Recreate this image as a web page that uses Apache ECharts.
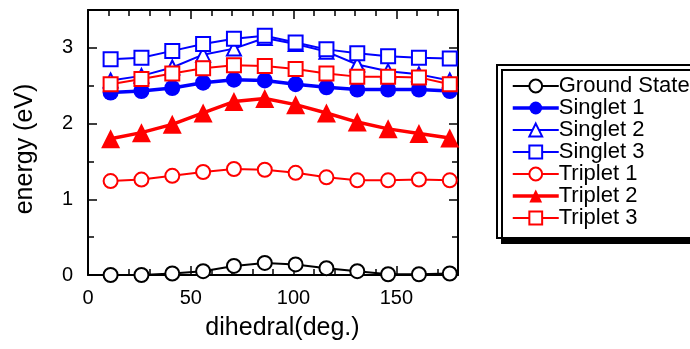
<!DOCTYPE html>
<html><head><meta charset="utf-8">
<script src="https://cdn.jsdelivr.net/npm/echarts@6/dist/echarts.min.js"></script>
<style>html,body{margin:0;padding:0;background:#fff}#c{width:690px;height:349px}</style>
</head><body><div id="c"></div>
<script>
const dihedral = [11, 26, 41, 56, 71, 86, 101, 116, 131, 146, 161, 176];
const groundState = [0.00, 0.00, 0.02, 0.05, 0.12, 0.16, 0.14, 0.09, 0.05, 0.01, 0.01, 0.02];
const singlet1 = [2.41, 2.43, 2.47, 2.54, 2.58, 2.57, 2.52, 2.48, 2.45, 2.45, 2.45, 2.43];
const singlet2 = [2.57, 2.63, 2.74, 2.91, 2.99, 3.13, 3.05, 2.95, 2.78, 2.69, 2.65, 2.57];
const singlet3 = [2.85, 2.87, 2.96, 3.05, 3.12, 3.16, 3.07, 2.98, 2.93, 2.89, 2.87, 2.86];
const triplet1 = [1.24, 1.26, 1.31, 1.36, 1.40, 1.39, 1.35, 1.29, 1.25, 1.25, 1.26, 1.25];
const triplet2 = [1.80, 1.88, 1.99, 2.14, 2.29, 2.33, 2.25, 2.14, 2.02, 1.93, 1.87, 1.81];
const triplet3 = [2.52, 2.59, 2.66, 2.73, 2.77, 2.76, 2.72, 2.66, 2.62, 2.62, 2.61, 2.52];
const seriesNames = ['Ground State', 'Singlet 1', 'Singlet 2', 'Singlet 3', 'Triplet 1', 'Triplet 2', 'Triplet 3'];
const thickSeries = ['Singlet 1', 'Triplet 2'];

const FONT = '"Liberation Sans", Arial, sans-serif';
const pair = arr => dihedral.map((x, i) => [x, arr[i]]);
function mk(name, data, color, symbol, size, filled, lw) {
  return {
    name, type: 'line', data: pair(data), symbol, symbolSize: size,
    lineStyle: { color, width: lw },
    itemStyle: { color: filled ? color : '#fff', borderColor: color, borderWidth: filled ? 0 : 2 },
    emphasis: { disabled: true }, animation: false, z: 3
  };
}
const chart = echarts.init(document.getElementById('c'));
function axisStyle(split) {
  return {
    axisLine: { show: true, onZero: false, lineStyle: { color: '#000', width: 2 } },
    axisTick: { show: true, inside: true, length: 9, lineStyle: { color: '#000', width: 1.5 } },
    minorTick: { show: true, splitNumber: split, length: 6, lineStyle: { color: '#000', width: 1.5 } },
    splitLine: { show: false }
  };
}
chart.setOption({
  animation: false,
  grid: { left: 88, right: 232, top: 10, bottom: 74 },
  xAxis: [
    Object.assign({ type: 'value', min: 0, max: 180, interval: 50, position: 'bottom',
      name: 'dihedral(deg.)', nameLocation: 'middle', nameGap: 41,
      nameTextStyle: { fontFamily: FONT, fontSize: 25, color: '#000', padding: [0, 0, 0, 19] },
      axisLabel: { fontFamily: FONT, fontSize: 20, color: '#000', margin: 13, showMaxLabel: false }
    }, axisStyle(5)),
    Object.assign({ type: 'value', min: 0, max: 180, interval: 50, position: 'top',
      axisLabel: { show: false } }, axisStyle(5))
  ],
  yAxis: [
    Object.assign({ type: 'value', min: 0, max: 3.5, interval: 1, position: 'left',
      name: 'energy (eV)', nameLocation: 'middle', nameGap: 50, nameRotate: 90,
      nameTextStyle: { fontFamily: FONT, fontSize: 25, color: '#000', padding: [0, 13, 0, 0] },
      axisLabel: { fontFamily: FONT, fontSize: 20, color: '#000', margin: 15, showMaxLabel: false }
    }, axisStyle(2)),
    Object.assign({ type: 'value', min: 0, max: 3.5, interval: 1, position: 'right',
      axisLabel: { show: false } }, axisStyle(2))
  ],
  legend: {
    orient: 'vertical', left: 497, top: 65,
    padding: [10, 12, 9, 14],
    itemWidth: 46, itemHeight: 16, itemGap: 0,
    backgroundColor: '#fff', borderColor: '#000', borderWidth: 2,
    shadowColor: '#000', shadowBlur: 0, shadowOffsetX: 5, shadowOffsetY: 5,
    textStyle: { fontFamily: FONT, fontSize: 22, color: '#000', lineHeight: 21.8, padding: [0, 0, 0, -5] },
    data: seriesNames.map(n => thickSeries.includes(n) ? { name: n, lineStyle: { width: 3.5 } } : { name: n, lineStyle: { width: 2 } }),
    selectedMode: false
  },
  series: [
    mk(seriesNames[0], groundState, '#000', 'circle', 14, false, 2),
    mk(seriesNames[1], singlet1, '#0000ff', 'circle', 16, true, 3.5),
    mk(seriesNames[2], singlet2, '#0000ff', 'triangle', 14, false, 2),
    mk(seriesNames[3], singlet3, '#0000ff', 'rect', 14, false, 2),
    mk(seriesNames[4], triplet1, '#ff0000', 'circle', 14, false, 2),
    mk(seriesNames[5], triplet2, '#ff0000', 'triangle', 19, true, 3.5),
    mk(seriesNames[6], triplet3, '#ff0000', 'rect', 14, false, 2)
  ]
});
</script></body></html>
